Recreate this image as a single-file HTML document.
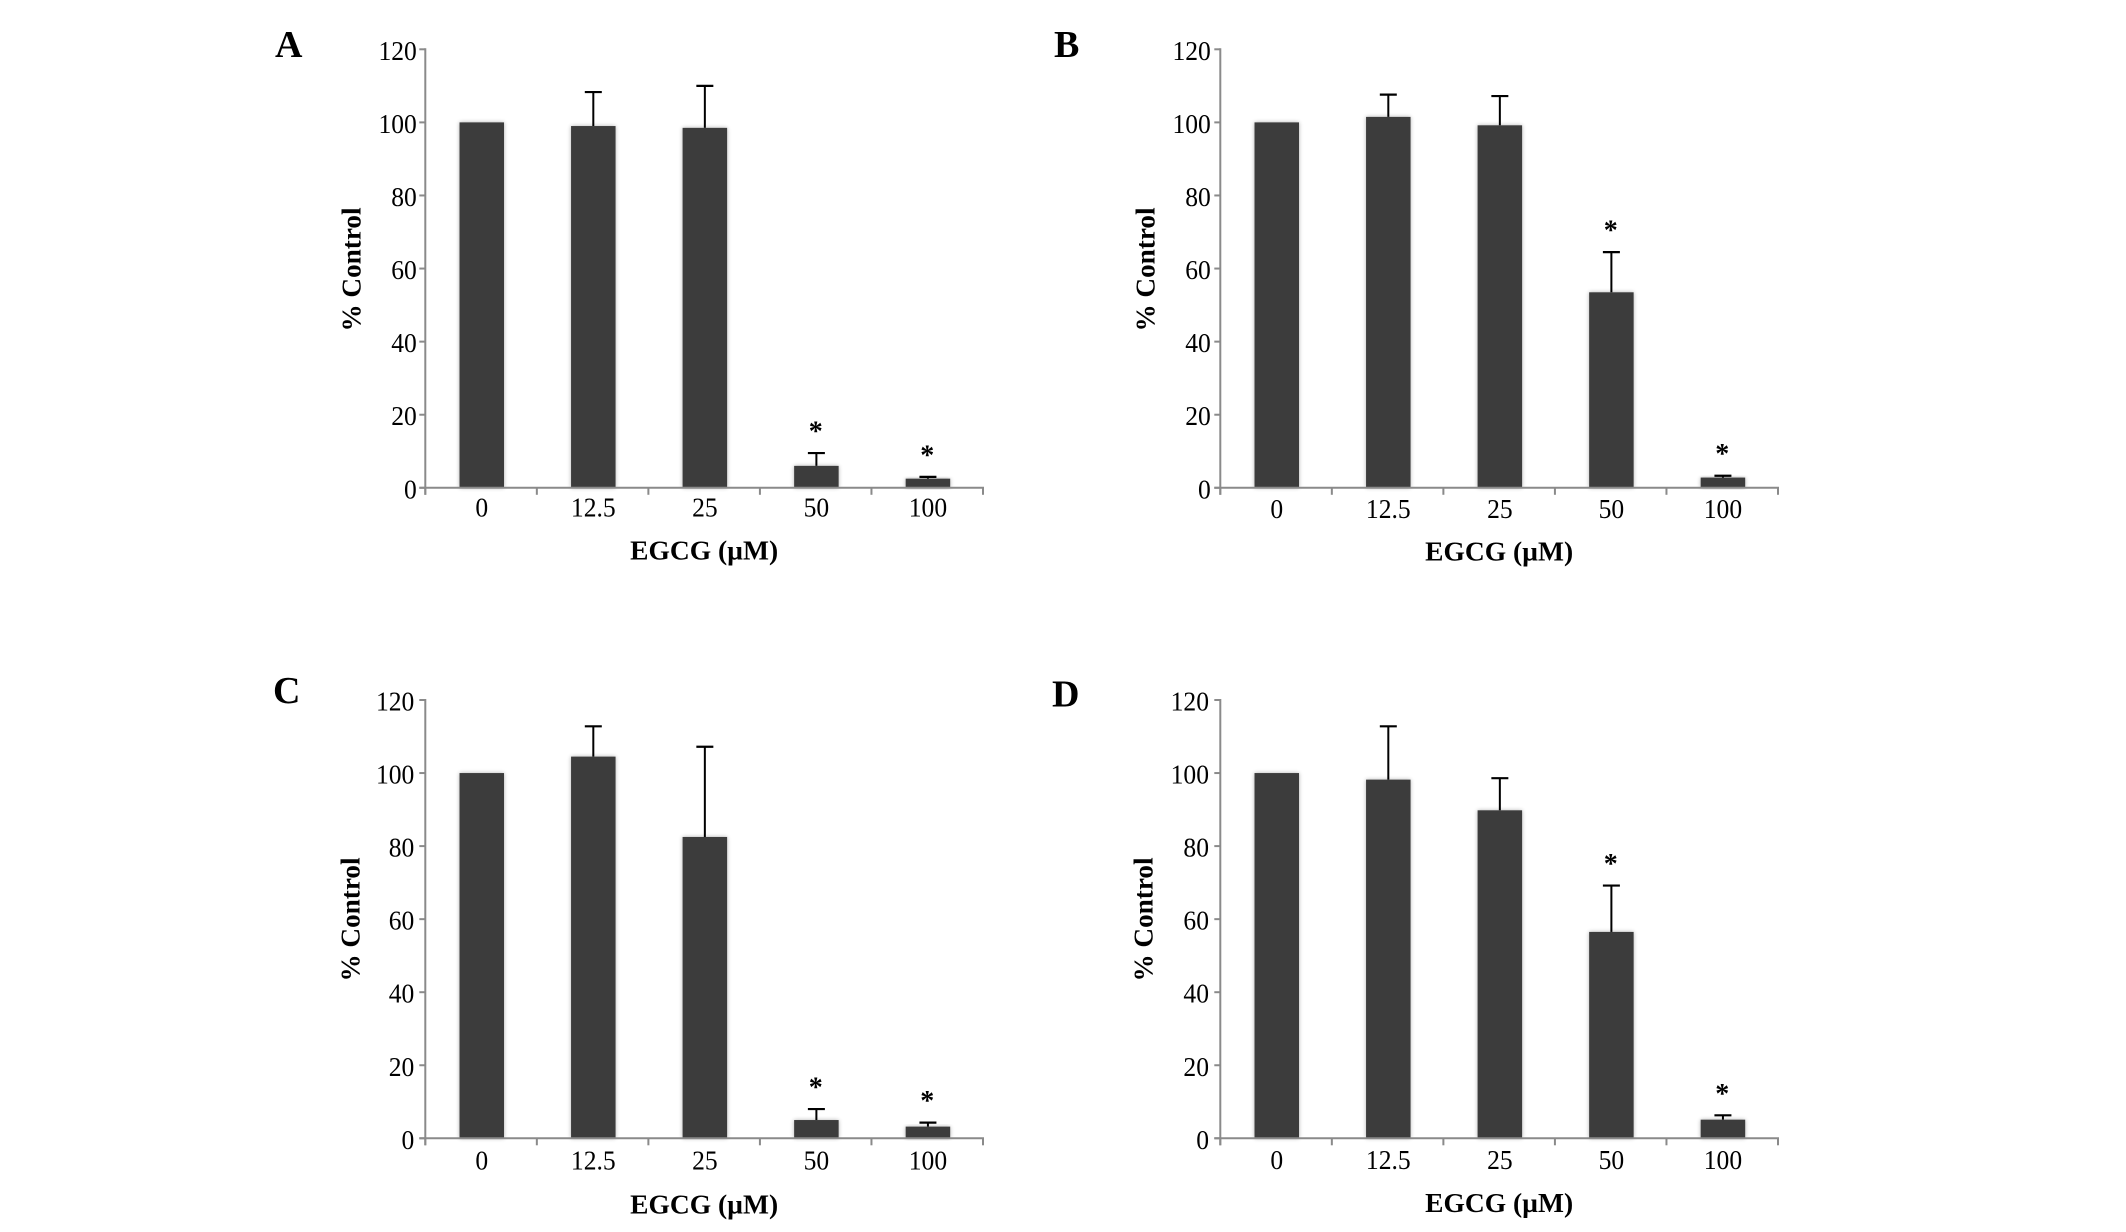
<!DOCTYPE html>
<html lang="en">
<head>
<meta charset="utf-8">
<title>EGCG dose response panels</title>
<style>
  html, body { margin: 0; padding: 0; background: #fff; }
  body { width: 2126px; height: 1232px; overflow: hidden; }
  svg { display: block; }
  text { font-family: "Liberation Serif", serif; fill: #000; }
</style>
</head>
<body>
<svg id="figure" xmlns="http://www.w3.org/2000/svg" width="2126" height="1232" viewBox="0 0 2126 1232">
  <defs>
    <filter id="soft" x="-20%" y="-20%" width="140%" height="140%"><feGaussianBlur stdDeviation="2"/></filter>
  </defs>
  <rect width="2126" height="1232" fill="#ffffff"/>
</svg>
<script>
const categories = ['0', '12.5', '25', '50', '100'];
const yTickValues = [0, 20, 40, 60, 80, 100, 120];
const xAxisTitle = 'EGCG (µM)';
const yAxisTitle = '% Control';

const valuesA = [100, 99, 98.5, 6, 2.5];
const errorsA = [0, 9.3, 11.5, 3.5, 0.5];
const starsA = [false, false, false, true, true];

const valuesB = [100, 101.5, 99.2, 53.5, 2.8];
const errorsB = [0, 6.1, 8, 11, 0.5];
const starsB = [false, false, false, true, true];

const valuesC = [100, 104.5, 82.5, 5, 3.2];
const errorsC = [0, 8.3, 24.7, 3, 1.1];
const starsC = [false, false, false, true, true];

const valuesD = [100, 98.2, 89.8, 56.5, 5.1];
const errorsD = [0, 14.6, 8.8, 12.7, 1.2];
const starsD = [false, false, false, true, true];

const panels = [
  { id: 'a', letter: 'A', values: valuesA, errors: errorsA, stars: starsA,
    left: 425.3, right: 983, y0: 487.8, yTop: 49.3, labelGap: 8.5,
    xLabelY: 516.7, xTitleY: 559.5, yTitleX: 360.7, yTitleY: 269.5, letterX: 275, letterY: 57 },
  { id: 'b', letter: 'B', values: valuesB, errors: errorsB, stars: starsB,
    left: 1220.3, right: 1778, y0: 487.8, yTop: 49.3, labelGap: 9.5,
    xLabelY: 518, xTitleY: 560.5, yTitleX: 1154.7, yTitleY: 269.5, letterX: 1054, letterY: 57 },
  { id: 'c', letter: 'C', values: valuesC, errors: errorsC, stars: starsC,
    left: 425.3, right: 983, y0: 1138.3, yTop: 700, labelGap: 11,
    xLabelY: 1169.7, xTitleY: 1213.5, yTitleX: 359.5, yTitleY: 919.5, letterX: 273, letterY: 703 },
  { id: 'd', letter: 'D', values: valuesD, errors: errorsD, stars: starsD,
    left: 1220.3, right: 1778, y0: 1138.3, yTop: 700, labelGap: 11.3,
    xLabelY: 1169, xTitleY: 1212, yTitleX: 1152.5, yTitleY: 919.5, letterX: 1052, letterY: 706.5 }
];

const NS = 'http://www.w3.org/2000/svg';
const figure = document.getElementById('figure');
const yMax = 120;
const barWidth = 44.5;
const capWidth = 17;
const barShift = 0.7;
const axisColor = '#8a8a8a';
const barColor = '#3c3c3c';
const tickFontSize = 27.5;
const tickCondense = 0.93;

function make(parent, tag, attrs, text) {
  const node = document.createElementNS(NS, tag);
  for (const key in attrs) node.setAttribute(key, attrs[key]);
  if (text !== undefined) node.textContent = text;
  parent.appendChild(node);
  return node;
}

function condensedAttrs(x, y, anchor) {
  return {
    x: 0, y: 0,
    'font-size': tickFontSize,
    'text-anchor': anchor,
    transform: 'translate(' + x + ' ' + y + ') scale(' + tickCondense + ' 1)'
  };
}

function drawPanel(p) {
  const yScale = v => p.y0 - (v / yMax) * (p.y0 - p.yTop);
  const band = (p.right - p.left) / categories.length;
  const xScale = i => p.left + band * (i + 0.5) + barShift;

  const group = make(figure, 'g', {});
  
  

  const letter = make(group, 'text', { x: p.letterX, y: p.letterY, 'font-size': 38, 'font-weight': 'bold' }, p.letter);
  
  

  p.values.forEach((value, i) => {
    const cx = xScale(i);
    const top = yScale(value);
    const shadow = make(group, 'rect', { x: cx - barWidth / 2, y: top, width: barWidth, height: p.y0 - top, fill: '#000', opacity: 0.3, filter: 'url(#soft)' });
    
    

    const errTop = yScale(value + p.errors[i]);
    if (p.errors[i] > 0) {
      const stem = make(group, 'line', { x1: cx, x2: cx, y1: top, y2: errTop, stroke: '#000', 'stroke-width': 2 });
      
      
      const cap = make(group, 'line', { x1: cx - capWidth / 2, x2: cx + capWidth / 2, y1: errTop, y2: errTop, stroke: '#000', 'stroke-width': 2.2 });
      
      
    }

    const bar = make(group, 'rect', { x: cx - barWidth / 2, y: top, width: barWidth, height: p.y0 - top, fill: barColor });
    
    

    if (p.stars[i]) {
      const star = make(group, 'text', { x: cx - 0.7, y: errTop - 12.5, 'font-size': 28, 'font-weight': 'bold', 'text-anchor': 'middle' }, '*');
      
      
    }

    const label = make(group, 'text', condensedAttrs(cx, p.xLabelY, 'middle'), categories[i]);
    
    
  });

  const yAxis = make(group, 'line', { x1: p.left, x2: p.left, y1: p.yTop - 1, y2: p.y0 + 7, stroke: axisColor, 'stroke-width': 2 });
  
  
  const xAxis = make(group, 'line', { x1: p.left - 6, x2: p.right + 1, y1: p.y0, y2: p.y0, stroke: axisColor, 'stroke-width': 2 });
  
  

  yTickValues.forEach(tick => {
    const y = yScale(tick);
    const mark = make(group, 'line', { x1: p.left - 6, x2: p.left, y1: y, y2: y, stroke: axisColor, 'stroke-width': 2 });
    
    
    const label = make(group, 'text', condensedAttrs(p.left - p.labelGap, y + 10.5, 'end'), String(tick));
    
    
  });

  for (let i = 0; i <= categories.length; i++) {
    const x = p.left + band * i;
    const mark = make(group, 'line', { x1: x, x2: x, y1: p.y0, y2: p.y0 + 7, stroke: axisColor, 'stroke-width': 2 });
    
    
  }

  const xTitle = make(group, 'text', { x: (p.left + p.right) / 2, y: p.xTitleY, 'font-size': 27.5, 'font-weight': 'bold', 'text-anchor': 'middle' }, xAxisTitle);
  
  

  const yTitle = make(group, 'text', { x: 0, y: 0, 'font-size': 27.2, 'font-weight': 'bold', 'text-anchor': 'middle', transform: 'translate(' + p.yTitleX + ' ' + p.yTitleY + ') rotate(-90)' }, yAxisTitle);
  
  
}

panels.forEach(drawPanel);
</script>
</body>
</html>
